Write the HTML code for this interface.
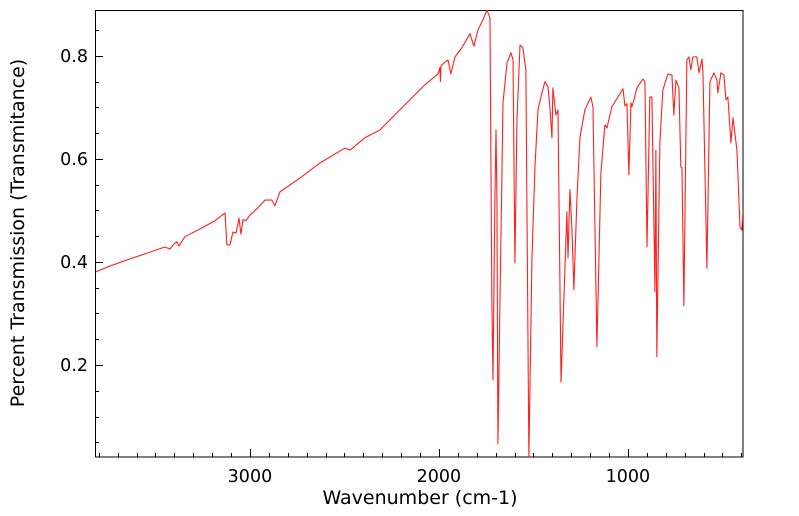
<!DOCTYPE html>
<html><head><meta charset="utf-8">
<style>
html,body{margin:0;padding:0;background:#fff;}
svg{display:block;font-family:"DejaVu Sans","Liberation Sans",sans-serif;}
</style></head>
<body>
<svg id="chart" width="799" height="516" viewBox="0 0 799 516" xmlns="http://www.w3.org/2000/svg">
<defs><clipPath id="plotclip"><rect x="95" y="10" width="648" height="447"/></clipPath></defs>
<rect x="95.5" y="10.5" width="647.5" height="446.5" fill="none" stroke="#000" stroke-width="1"/>
<g id="ticks"></g>
<g id="series" clip-path="url(#plotclip)"></g>
<text x="420" y="504" text-anchor="middle" font-size="19">Wavenumber (cm-1)</text>
<text transform="translate(24,233) rotate(-90)" text-anchor="middle" font-size="19">Percent Transmission (Transmitance)</text>
</svg>
<script>
const wavenumbers = [3815,3741,3635,3529,3450,3423,3402,3386,3376,3344,3265,3185,3132,3122,3106,3090,3074,3058,3048,3037,3021,3000,2958,2921,2884,2868,2841,2735,2630,2497,2471,2392,2312,2259,2153,2074,2005,1995,1992,1989,1968,1952,1937,1915,1878,1836,1815,1794,1767,1746,1730,1720,1714,1704,1698,1693,1688,1677,1661,1640,1619,1608,1598,1587,1571,1556,1540,1524,1508,1492,1476,1455,1439,1423,1413,1402,1397,1381,1370,1354,1339,1323,1317,1307,1296,1286,1270,1254,1228,1196,1185,1164,1143,1122,1111,1085,1026,1016,1005,995,984,979,968,952,921,910,899,884,873,857,852,847,831,815,788,767,757,746,730,720,714,704,688,677,667,656,635,624,608,603,582,566,545,529,524,508,492,481,471,455,444,423,407,397,391];
const transmittance = [0.381,0.392,0.406,0.419,0.429,0.425,0.435,0.439,0.431,0.449,0.464,0.480,0.495,0.433,0.433,0.458,0.456,0.485,0.454,0.482,0.480,0.491,0.505,0.520,0.520,0.509,0.536,0.563,0.592,0.621,0.617,0.641,0.656,0.676,0.715,0.744,0.765,0.777,0.750,0.781,0.788,0.792,0.765,0.798,0.816,0.843,0.819,0.850,0.870,0.889,0.874,0.326,0.171,0.520,0.656,0.520,0.047,0.326,0.709,0.786,0.806,0.792,0.398,0.676,0.821,0.816,0.773,0.021,0.404,0.584,0.695,0.728,0.750,0.740,0.701,0.641,0.738,0.685,0.695,0.167,0.326,0.497,0.408,0.540,0.462,0.346,0.520,0.641,0.695,0.720,0.701,0.235,0.573,0.666,0.660,0.701,0.736,0.703,0.707,0.569,0.709,0.701,0.715,0.738,0.755,0.750,0.429,0.720,0.720,0.342,0.617,0.216,0.631,0.734,0.765,0.763,0.685,0.753,0.738,0.584,0.583,0.315,0.792,0.798,0.773,0.798,0.798,0.767,0.794,0.769,0.388,0.750,0.767,0.753,0.728,0.767,0.763,0.715,0.720,0.631,0.680,0.617,0.468,0.462,0.501];
const xTickLabels = [3000,2000,1000];
const yTickLabels = [0.2,0.4,0.6,0.8];

const NS = "http://www.w3.org/2000/svg";
const X0 = 95, X1 = 743, Y0 = 10, Y1 = 457;
const W_LEFT = 3820, W_RIGHT = 391;
const T_TOP = 0.889, T_BOT = 0.0214;
function xScale(w){ return X0 + (W_LEFT - w) / (W_LEFT - W_RIGHT) * (X1 - X0); }
function yScale(t){ return Y0 + (T_TOP - t) / (T_TOP - T_BOT) * (Y1 - Y0); }

const ticks = document.getElementById('ticks');
function line(x1,y1,x2,y2){
  const l = document.createElementNS(NS,'line');
  l.setAttribute('x1',x1);l.setAttribute('y1',y1);l.setAttribute('x2',x2);l.setAttribute('y2',y2);
  l.setAttribute('stroke','#000');l.setAttribute('stroke-width','1');
  return l;
}
for(let w=3800; w>=400; w-=100){
  const x = Math.round(xScale(w))+0.5;
  const major = w % 1000 === 0;
  const l = line(x, Y1, x, Y1 - (major?8:4));
  
  
  ticks.appendChild(l);
}
xTickLabels.forEach(v=>{
  const t = document.createElementNS(NS,'text');
  t.setAttribute('x', xScale(v)); t.setAttribute('y', 482);
  t.setAttribute('text-anchor','middle'); t.setAttribute('font-size','17.5');
  t.textContent = v;
  
  
  ticks.appendChild(t);
});
for(let i=1;i<=17;i++){
  const v = i*0.05;
  const y = Math.round(yScale(v))+0.5;
  const major = i % 4 === 0;
  const l = line(X0, y, X0 + (major?8:4), y);
  
  
  ticks.appendChild(l);
}
yTickLabels.forEach(v=>{
  const t = document.createElementNS(NS,'text');
  t.setAttribute('x', 88); t.setAttribute('y', yScale(v)+6);
  t.setAttribute('text-anchor','end'); t.setAttribute('font-size','17.5');
  t.textContent = v.toFixed(1);
  
  
  ticks.appendChild(t);
});
const pts = wavenumbers.map((w,i)=> xScale(w).toFixed(2)+','+yScale(transmittance[i]).toFixed(2)).join(' ');
const pl = document.createElementNS(NS,'polyline');
pl.setAttribute('points', pts);
pl.setAttribute('fill','none'); pl.setAttribute('stroke','#ff2020');
pl.setAttribute('stroke-width','1.1'); pl.setAttribute('stroke-linejoin','round');


document.getElementById('series').appendChild(pl);
</script>
</body></html>
